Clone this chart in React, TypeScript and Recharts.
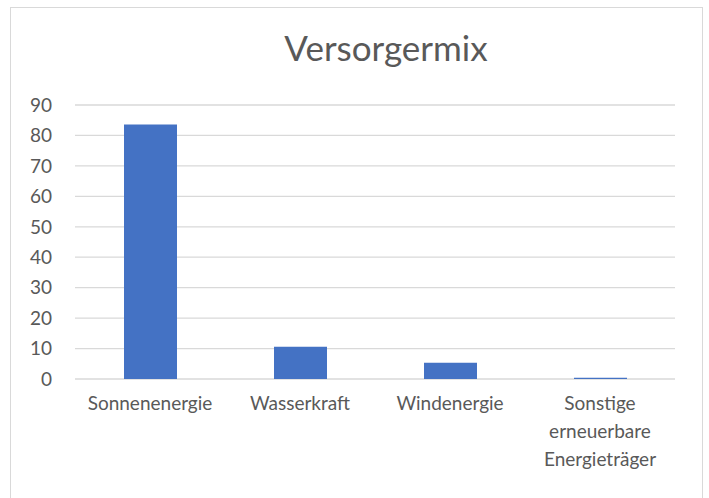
import { BarChart, Bar, XAxis, YAxis, CartesianGrid } from 'recharts';

const categories = ['Sonnenenergie', 'Wasserkraft', 'Windenergie', 'Sonstige erneuerbare Energieträger'];
const shares = [83.6, 10.6, 5.3, 0.4];
const yTicks = [0, 10, 20, 30, 40, 50, 60, 70, 80, 90];

const data = categories.map((name, i) => ({ name, value: shares[i] }));

const FONT = 'Lato, "Open Sans", sans-serif';

const CategoryTick = ({ x, y, payload }: any) => {
  const lines = String(payload.value).split(' ');
  return (
    <text x={x} y={y} textAnchor="middle" fill="#595959" fontSize={19} fontFamily={FONT}>
      {lines.map((line, i) => (
        <tspan key={i} x={x} dy={i === 0 ? 13 : 28}>
          {line}
        </tspan>
      ))}
    </text>
  );
};

export default function App() {
  return (
    <div style={{ position: 'absolute', left: 0, top: 0, width: 709, height: 498, background: '#fff', overflow: 'hidden' }}>
      <div
        style={{
          position: 'absolute',
          left: 10,
          top: 7,
          width: 693,
          height: 520,
          border: '1px solid #d9d9d9',
          boxSizing: 'border-box',
        }}
      />
      <div
        style={{
          position: 'absolute',
          left: 0,
          top: 26,
          width: 772,
          textAlign: 'center',
          fontFamily: FONT,
          fontSize: 35,
          lineHeight: 1.2,
          color: '#595959',
        }}
      >
        Versorgermix
      </div>
      <div style={{ position: 'absolute', left: 0, top: 0 }}>
        <BarChart width={709} height={498} data={data} margin={{ top: 105, right: 34, bottom: 19, left: 15 }}>
          <CartesianGrid vertical={false} stroke="#d9d9d9" strokeWidth={1.3} />
          <XAxis
            dataKey="name"
            axisLine={false}
            tickLine={false}
            tickSize={0}
            tickMargin={18}
            height={100}
            interval={0}
            tick={<CategoryTick />}
          />
          <YAxis
            width={60}
            domain={[0, 90]}
            ticks={yTicks}
            axisLine={false}
            tickLine={false}
            tickSize={0}
            tickMargin={23}
            tick={{ fill: '#595959', fontSize: 19, fontFamily: FONT }}
          />
          <Bar dataKey="value" fill="#4472c4" barSize={53} isAnimationActive={false} />
        </BarChart>
      </div>
    </div>
  );
}
